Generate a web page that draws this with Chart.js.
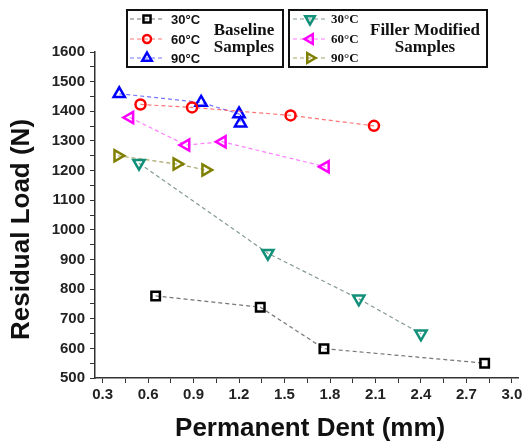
<!DOCTYPE html>
<html>
<head>
<meta charset="utf-8">
<script src="https://cdn.jsdelivr.net/npm/chart.js@4/dist/chart.umd.min.js"></script>
<style>
  html, body { margin: 0; padding: 0; background: #fff; }
  #wrap { width: 527px; height: 444px; }
</style>
</head>
<body>
<div id="wrap"><canvas id="dent" width="527" height="444"></canvas></div>
<script>
// values: permanent dent (mm) vs residual load (N)
const base30x = [0.65, 1.34, 1.76, 2.82];
const base30y = [777, 739, 599, 550];
const base60x = [0.55, 0.89, 1.54, 2.09];
const base60y = [1423, 1413, 1386, 1351];
const base90x = [0.41, 0.95, 1.20, 1.21];
const base90y = [1459, 1430, 1391, 1360];
const fill30x = [0.54, 1.39, 1.99, 2.40];
const fill30y = [1225, 921, 767, 649];
const fill60x = [0.48, 0.85, 1.09, 1.77];
const fill60y = [1379, 1286, 1297, 1213];
const fill90x = [0.40, 0.79, 0.98];
const fill90y = [1250, 1222, 1202];

const seriesLabels = ["30°C", "60°C", "90°C"];
const groupLabels = [["Baseline", "Samples"], ["Filler Modified", "Samples"]];
const xTicks = [0.3, 0.6, 0.9, 1.2, 1.5, 1.8, 2.1, 2.4, 2.7, 3.0];
const yTicks = [500, 600, 700, 800, 900, 1000, 1100, 1200, 1300, 1400, 1500, 1600];

const pts = (xs, ys) => xs.map((x, i) => ({ x: x, y: ys[i] }));

function series(label, xs, ys, color, lineColor, style, rot, r) {
    return {
        label: label,
        data: pts(xs, ys),
        showLine: true,
        borderColor: lineColor,
        borderWidth: 1.2,
        borderDash: [4, 3],
        pointStyle: style,
        pointRotation: rot,
        pointRadius: r,
        pointBorderColor: color,
        pointBackgroundColor: 'rgba(255,255,255,0)',
        pointBorderWidth: 2.5,
        markerColor: color
    };
}

const datasets = [
    series(seriesLabels[0], base30x, base30y, '#000000', 'rgba(60,60,60,0.7)', 'rect', 0, 6),
    series(seriesLabels[1], base60x, base60y, '#ff0000', 'rgba(255,60,60,0.7)', 'circle', 0, 5),
    series(seriesLabels[2], base90x, base90y, '#0000ff', 'rgba(60,60,255,0.7)', 'triangle', 0, 6.5),
    series(seriesLabels[0], fill30x, fill30y, '#12907a', 'rgba(90,120,110,0.75)', 'triangle', 180, 6.5),
    series(seriesLabels[1], fill60x, fill60y, '#ff00ff', 'rgba(255,70,255,0.7)', 'triangle', 270, 6.5),
    series(seriesLabels[2], fill90x, fill90y, '#808000', 'rgba(128,128,40,0.7)', 'triangle', 90, 6.5)
];

// two boxed legends drawn on the canvas, like the Origin plot
const boxLegend = {
    id: 'boxLegend',
    afterDraw(chart) {
        const ctx = chart.ctx;
        const boxes = [
            { x: 127, w: 156, mark: 147, text: 171, group: 244, font: 'bold 13px "Liberation Sans", Arial', sets: [0, 1, 2] },
            { x: 289, w: 198, mark: 310, text: 331, group: 425, font: 'bold 13px "Liberation Serif", "Times New Roman"', sets: [3, 4, 5] }
        ];
        const rows = [19, 39, 58];
        ctx.save();
        boxes.forEach((b, bi) => {
            ctx.lineWidth = 2;
            ctx.strokeStyle = '#111';
            ctx.setLineDash([]);
            ctx.strokeRect(b.x, 10, b.w, 57);
            b.sets.forEach((di, k) => {
                const ds = chart.data.datasets[di];
                const y = rows[k];
                ctx.save();
                ctx.strokeStyle = ds.borderColor;
                ctx.lineWidth = 1.2;
                ctx.setLineDash([4, 3]);
                ctx.beginPath();
                ctx.moveTo(b.mark - 17, y);
                ctx.lineTo(b.mark + 18, y);
                ctx.stroke();
                ctx.restore();
                ctx.save();
                ctx.strokeStyle = ds.markerColor;
                ctx.fillStyle = 'rgba(255,255,255,0)';
                ctx.lineWidth = 2.5;
                Chart.helpers.drawPoint(ctx, {
                    pointStyle: ds.pointStyle,
                    rotation: ds.pointRotation,
                    radius: ds.pointStyle === 'triangle' ? 5.5 : ds.pointRadius - 1,
                    borderWidth: 2.5
                }, b.mark, y);
                ctx.restore();
                ctx.fillStyle = '#111';
                ctx.font = b.font;
                ctx.textAlign = 'left';
                ctx.textBaseline = 'middle';
                ctx.fillText(ds.label, b.text, y + 1);
            });
            ctx.fillStyle = '#111';
            ctx.font = 'bold 17px "Liberation Serif", "Times New Roman"';
            ctx.textAlign = 'center';
            ctx.textBaseline = 'middle';
            ctx.fillText(groupLabels[bi][0], b.group, 31);
            ctx.fillText(groupLabels[bi][1], b.group, 48);
        });
        ctx.restore();
    }
};

const tickFont = { family: '"Liberation Sans", Arial', size: 15, weight: 'bold' };
const titleFont = { family: '"Liberation Sans", Arial', size: 26, weight: 'bold' };

new Chart('dent', {
    type: 'scatter',
    data: { datasets: datasets },
    options: {
        responsive: false,
        animation: false,
        layout: { padding: { top: 52, right: 2, left: 0, bottom: 0 } },
        plugins: { legend: { display: false }, tooltip: { enabled: false } },
        scales: {
            x: {
                type: 'linear',
                min: 0.25,
                max: 3.04,
                afterBuildTicks(scale) {
                    const t = [];
                    xTicks.forEach((v, i) => {
                        t.push({ value: v });
                        if (i < xTicks.length - 1) t.push({ value: +(v + 0.15).toFixed(2), minor: true });
                    });
                    scale.ticks = t;
                },
                afterFit(scale) { scale.height = 66; },
                ticks: {
                    autoSkip: false,
                    maxRotation: 0,
                    padding: 3,
                    color: '#222',
                    font: tickFont,
                    callback: v => xTicks.some(t => Math.abs(t - v) < 1e-6) ? v.toFixed(1) : ''
                },
                grid: { drawOnChartArea: false, drawTicks: true, tickLength: 5, color: '#333', lineWidth: 1 },
                border: { display: true, color: '#333', width: 1.5 },
                title: { display: true, text: ' Permanent Dent (mm)', color: '#111', font: titleFont, padding: { top: 0, bottom: 0 } }
            },
            y: {
                min: 500,
                max: 1600,
                afterBuildTicks(scale) {
                    const t = [];
                    yTicks.forEach((v, i) => {
                        t.push({ value: v });
                        if (i < yTicks.length - 1) t.push({ value: v + 50, minor: true });
                    });
                    scale.ticks = t;
                },
                afterFit(scale) { scale.width = 95; },
                ticks: {
                    autoSkip: false,
                    padding: 5,
                    color: '#222',
                    font: tickFont,
                    callback: v => yTicks.includes(v) ? String(v) : ''
                },
                grid: { drawOnChartArea: false, drawTicks: true, tickLength: 5, color: '#333', lineWidth: 1 },
                border: { display: true, color: '#333', width: 1.5 },
                // trailing spaces push the rotated title a little toward the bottom, as in the source
                title: { display: true, text: 'Residual Load (N)    ', color: '#111', font: titleFont, padding: { top: 6, bottom: 2 } }
            }
        }
    },
    plugins: [boxLegend]
});
</script>
</body>
</html>
